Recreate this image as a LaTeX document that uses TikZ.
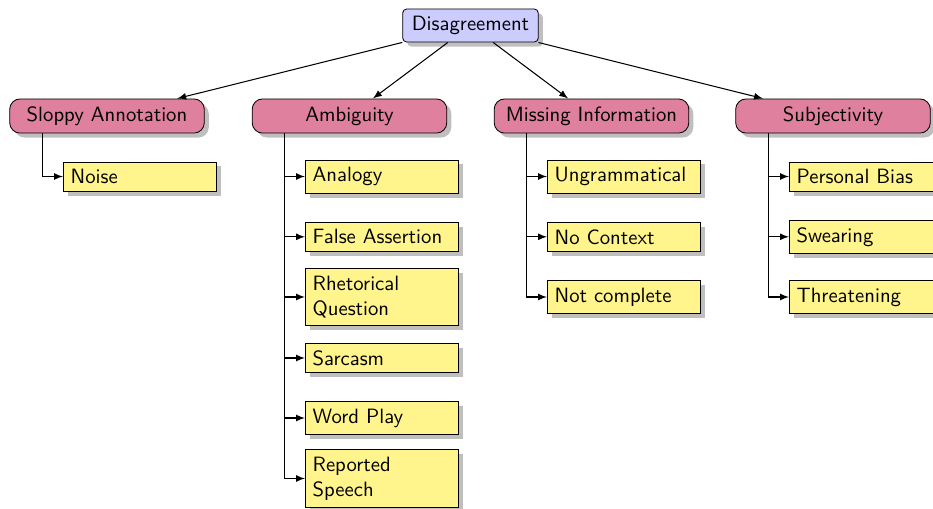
\documentclass[tikz,border=0pt]{standalone}
\usetikzlibrary{shadows,calc}
\definecolor{rootfill}{RGB}{204,204,255}
\definecolor{catfill}{RGB}{223,128,159}
\definecolor{leaffill}{RGB}{255,245,140}
\tikzset{
 rootbox/.style={draw, fill=rootfill, rounded corners=2pt, drop shadow, inner xsep=4.4pt, inner ysep=3.5pt, font=\sffamily},
 catbox/.style={draw, fill=catfill, rounded corners=5pt, drop shadow, minimum width=94pt, minimum height=16.5pt, font=\sffamily},
 leafbox/.style={draw, fill=leaffill, drop shadow, text width=67pt, inner xsep=3.5pt, inner ysep=3.5pt, align=left, anchor=west, font=\sffamily},
 conn/.style={-latex, black, line width=0.5pt},
}
\begin{document}
\begin{tikzpicture}[x=0.483pt, y=-0.483pt]
\useasboundingbox (0,0) rectangle (933,508);
\node[rootbox] (root) at (470.5,25.5) {Disagreement};
\node[catbox] (sloppy) at (107,116) {Sloppy Annotation};
\node[catbox] (amb) at (349.5,116) {Ambiguity};
\node[catbox] (miss) at (591.5,116) {Missing Information};
\node[catbox] (subj) at (833,116) {Subjectivity};
\foreach \c in {sloppy,amb,miss,subj} \draw[conn] (root) -- (\c);
% Sloppy
\node[leafbox] (noise) at (63,176.5) {Noise};
% Ambiguity
\node[leafbox] (analogy) at (305,176.5) {Analogy};
\node[leafbox] (false) at (305,236.8) {False Assertion};
\node[leafbox] (rhet) at (305,297) {Rhetorical Question};
\node[leafbox] (sarc) at (305,358) {Sarcasm};
\node[leafbox] (word) at (305,418) {Word Play};
\node[leafbox] (rep) at (305,478.5) {Reported Speech};
% Missing
\node[leafbox] (ungr) at (547,176.5) {Ungrammatical};
\node[leafbox] (noctx) at (547,236.8) {No Context};
\node[leafbox] (notc) at (547,297) {Not complete};
% Subjectivity
\node[leafbox] (pers) at (789,176.5) {Personal Bias};
\node[leafbox] (swear) at (789,236.8) {Swearing};
\node[leafbox] (threat) at (789,297) {Threatening};
% connectors
\draw[conn] ($(sloppy.south west)+(33,0)$) |- (noise.west);
\foreach \c in {analogy,false,rhet,sarc,word,rep} \draw[conn] ($(amb.south west)+(33,0)$) |- (\c.west);
\foreach \c in {ungr,noctx,notc} \draw[conn] ($(miss.south west)+(33,0)$) |- (\c.west);
\foreach \c in {pers,swear,threat} \draw[conn] ($(subj.south west)+(33,0)$) |- (\c.west);
\end{tikzpicture}
\end{document}
